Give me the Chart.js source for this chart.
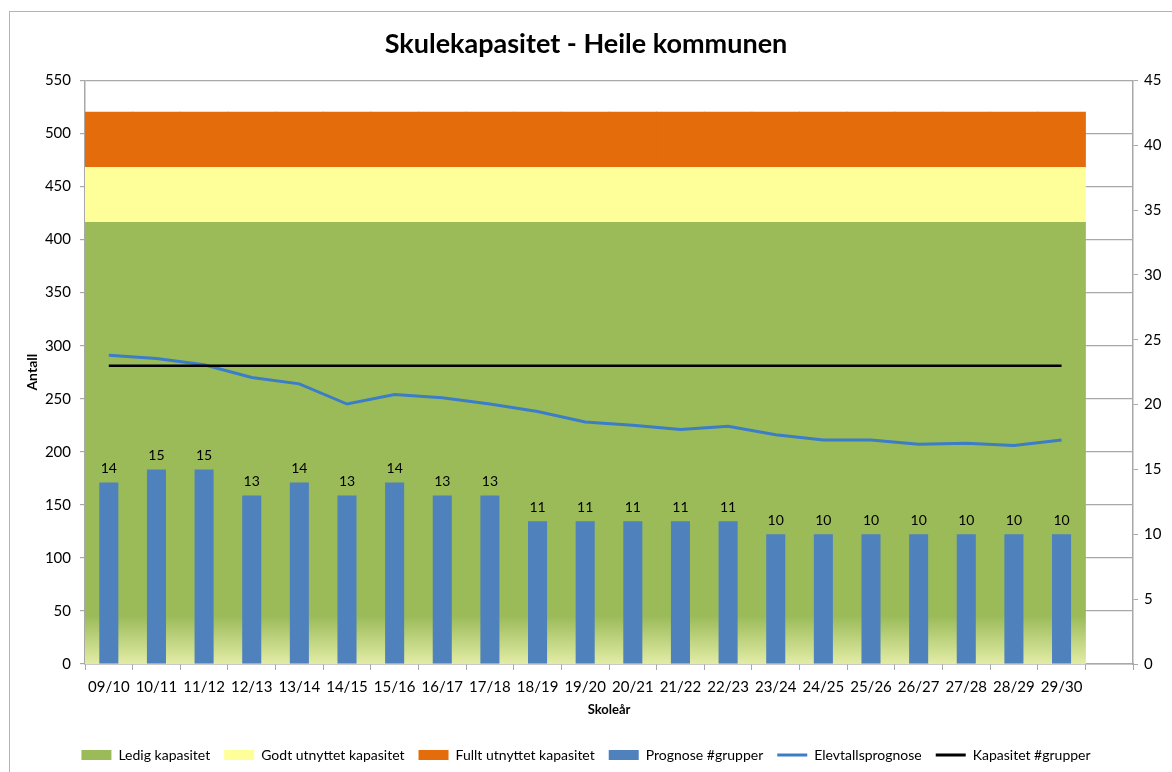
<!DOCTYPE html>
<html>
<head>
<meta charset="utf-8">
<script src="https://cdn.jsdelivr.net/npm/chart.js@4/dist/chart.umd.min.js"></script>
<style>
  html, body { margin: 0; padding: 0; background: #fff; }
  #wrap { position: relative; width: 1172px; height: 772px; overflow: hidden; }
  #frame { position: absolute; left: 9px; top: 11px; width: 1300px; height: 900px;
           border-left: 1.5px solid #b4b4b4; border-top: 1.5px solid #b4b4b4; }
  canvas { position: absolute; left: 0; top: 0; }
</style>
</head>
<body>
<div id="wrap">
  <div id="frame"></div>
  <canvas id="chart" width="1172" height="772"></canvas>
</div>
<script>
// Skoleår (siste kategori er tom, som i originalen)
const skoleaar = ['09/10','10/11','11/12','12/13','13/14','14/15','15/16','16/17','17/18','18/19','19/20',
                  '20/21','21/22','22/23','23/24','24/25','25/26','26/27','27/28','28/29','29/30',''];

// Kapasitetsbånd (elevar)
const ledigKapasitet = [416,416,416,416,416,416,416,416,416,416,416,416,416,416,416,416,416,416,416,416,416];
const godtUtnyttet   = [52,52,52,52,52,52,52,52,52,52,52,52,52,52,52,52,52,52,52,52,52];
const fulltUtnyttet  = [52,52,52,52,52,52,52,52,52,52,52,52,52,52,52,52,52,52,52,52,52];

// Grupper (høgre akse)
const prognoseGrupper = [14,15,15,13,14,13,14,13,13,11,11,11,11,11,10,10,10,10,10,10,10];
const kapasitetGrupper = [23,23,23,23,23,23,23,23,23,23,23,23,23,23,23,23,23,23,23,23,23];

// Elevtal (venstre akse)
const elevtallsprognose = [291,288,282,270,264,245,254,251,245,238,228,225,221,224,216,211,211,207,208,206,211];

const FONT = 'Lato, "Liberation Sans", sans-serif';
const GRID = '#a8a8a8';

function greenFill(ctx) {
    const chart = ctx.chart;
    const a = chart.chartArea;
    if (!a) return '#9bbb59';
    const g = chart.ctx.createLinearGradient(0, a.bottom, 0, a.bottom - 48);
    g.addColorStop(0, '#e3eca6');
    g.addColorStop(1, '#9bbb59');
    return g;
}

// tal over stolpane
const barLabels = {
    id: 'barLabels',
    afterDatasetsDraw(chart) {
        const meta = chart.getDatasetMeta(3);
        const c = chart.ctx;
        c.save();
        c.font = '14px ' + FONT;
        c.fillStyle = '#000';
        c.textAlign = 'center';
        c.textBaseline = 'bottom';
        meta.data.forEach((bar, i) => {
            c.fillText(String(prognoseGrupper[i]), bar.x, bar.y - 7);
        });
        c.restore();
    }
};

const legendColors = ['#9bbb59', '#ffff99', '#e46c0a', '#4f81bd', '#3c7dc7', '#000000'];

new Chart(document.getElementById('chart'), {
    data: {
        labels: skoleaar,
        datasets: [
            { type: 'bar', label: 'Ledig kapasitet', data: ledigKapasitet, xAxisID: 'xb', yAxisID: 'y',
              stack: 'kap', grouped: false, backgroundColor: greenFill, barPercentage: 1, categoryPercentage: 1,
              inflateAmount: 0.5, order: 5 },
            { type: 'bar', label: 'Godt utnyttet kapasitet', data: godtUtnyttet, xAxisID: 'xb', yAxisID: 'y',
              stack: 'kap', grouped: false, backgroundColor: '#ffff99', barPercentage: 1, categoryPercentage: 1,
              inflateAmount: 0.5, order: 5 },
            { type: 'bar', label: 'Fullt utnyttet kapasitet', data: fulltUtnyttet, xAxisID: 'xb', yAxisID: 'y',
              stack: 'kap', grouped: false, backgroundColor: '#e46c0a', barPercentage: 1, categoryPercentage: 1,
              inflateAmount: 0.5, order: 5 },
            { type: 'bar', label: 'Prognose #grupper', data: prognoseGrupper, xAxisID: 'x', yAxisID: 'y2',
              grouped: false, backgroundColor: '#4f81bd', barPercentage: 0.4, categoryPercentage: 1, order: 3 },
            { type: 'line', label: 'Elevtallsprognose', data: elevtallsprognose, xAxisID: 'x', yAxisID: 'y',
              stack: 'elev', borderColor: '#3c7dc7', borderWidth: 3, pointRadius: 0, tension: 0,
              fill: false, order: 2 },
            { type: 'line', label: 'Kapasitet #grupper', data: kapasitetGrupper, xAxisID: 'x', yAxisID: 'y2',
              borderColor: '#000000', borderWidth: 2.5, pointRadius: 0, tension: 0, fill: false, order: 1 }
        ]
    },
    options: {
        responsive: false,
        animation: false,
        layout: { padding: 0 },
        plugins: {
            title: {
                display: true,
                text: 'Skulekapasitet - Heile kommunen',
                color: '#000',
                font: { family: FONT, size: 27, weight: 'bold', lineHeight: 1.2 },
                padding: { top: 28, bottom: 20 }
            },
            tooltip: { enabled: false },
            legend: {
                position: 'bottom',
                labels: {
                    usePointStyle: true,
                    pointStyleWidth: 30,
                    boxHeight: 10,
                    padding: 14,
                    color: '#000',
                    font: { family: FONT, size: 14 },
                    generateLabels(chart) {
                        return chart.data.datasets.map((ds, i) => {
                            const isLine = ds.type === 'line';
                            return {
                                text: ds.label,
                                fillStyle: legendColors[i],
                                strokeStyle: legendColors[i],
                                lineWidth: isLine ? 3 : 0,
                                pointStyle: isLine ? 'line' : 'rect',
                                hidden: false,
                                datasetIndex: i,
                                fontColor: '#000'
                            };
                        });
                    }
                }
            }
        },
        scales: {
            x: {
                type: 'category',
                offset: true,
                grid: { display: true, offset: true, drawOnChartArea: false, drawTicks: true, tickLength: 6, color: GRID },
                border: { display: true, color: GRID, width: 1.5 },
                ticks: { color: '#000', font: { family: FONT, size: 15 }, padding: 8, maxRotation: 0, autoSkip: false },
                title: { display: true, text: 'Skoleår', color: '#000',
                         font: { family: FONT, size: 13, weight: 'bold' }, padding: { top: 0, bottom: 16 } },
                afterFit(scale) { scale.height = 70; }
            },
            xb: {
                type: 'category',
                offset: true,
                stacked: true,
                display: false
            },
            y: {
                type: 'linear',
                position: 'left',
                stacked: true,
                min: 0, max: 550,
                ticks: { stepSize: 50, color: '#000', font: { family: FONT, size: 15 }, padding: 9 },
                grid: { color: GRID, lineWidth: 1.2, tickLength: 5 },
                border: { display: true, color: GRID, width: 1.5 },
                title: { display: true, text: 'Antall', color: '#000',
                         font: { family: FONT, size: 14, weight: 'bold' }, padding: { top: 24, bottom: 0 } },
                afterFit(scale) { scale.width = 85; }
            },
            y2: {
                type: 'linear',
                position: 'right',
                min: 0, max: 45,
                ticks: { stepSize: 5, color: '#000', font: { family: FONT, size: 15 }, padding: 6 },
                grid: { drawOnChartArea: false, drawTicks: true, tickLength: 5, color: GRID },
                border: { display: true, color: GRID, width: 1.5 },
                afterFit(scale) { scale.width = 39; }
            }
        }
    },
    plugins: [barLabels]
});
</script>
</body>
</html>
